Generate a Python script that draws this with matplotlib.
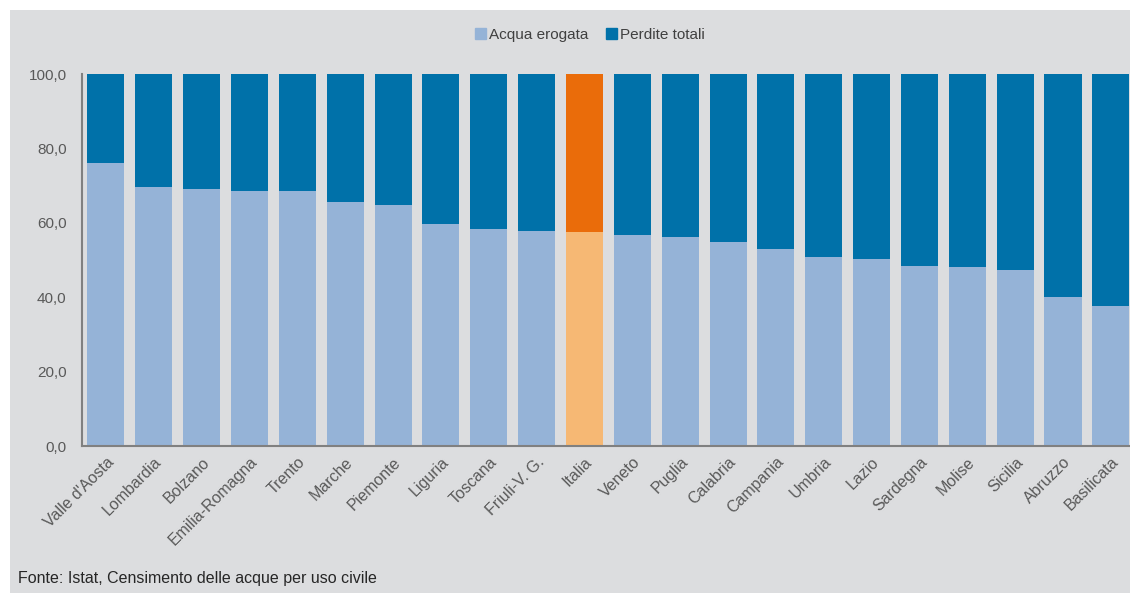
import matplotlib
matplotlib.use("Agg")
import matplotlib.pyplot as plt
from matplotlib.patches import Rectangle, Patch
import numpy as np

# dati (percentuale su acqua immessa in rete)
regioni = ["Valle d'Aosta", "Lombardia", "Bolzano", "Emilia-Romagna", "Trento",
           "Marche", "Piemonte", "Liguria", "Toscana", "Friuli-V. G.", "Italia",
           "Veneto", "Puglia", "Calabria", "Campania", "Umbria", "Lazio",
           "Sardegna", "Molise", "Sicilia", "Abruzzo", "Basilicata"]
acqua_erogata = [76.0, 69.6, 69.1, 68.5, 68.5, 65.6, 64.7, 59.7, 58.3, 57.8, 57.5,
                 56.7, 56.3, 54.8, 53.0, 50.7, 50.2, 48.5, 48.0, 47.3, 40.1, 37.7]
perdite_totali = [round(100 - v, 1) for v in acqua_erogata]
yticks = [0, 20, 40, 60, 80, 100]

grigio = "#dcdddf"
chiaro = "#95b3d7"
scuro = "#0071a9"
chiaro_it = "#f6b874"
scuro_it = "#ea6c0a"

narrow = ["Liberation Sans Narrow", "Liberation Sans", "DejaVu Sans"]
plt.rcParams["font.family"] = ["Liberation Sans", "DejaVu Sans"]

fig = plt.figure(figsize=(11.3, 5.93), dpi=100, facecolor="white")
fig.patches.append(Rectangle((10 / 1130, 0), 1, 583 / 593, transform=fig.transFigure,
                             facecolor=grigio, edgecolor="none", zorder=-1))

ax = fig.add_axes([82 / 1130, (593 - 446) / 593, (1130 - 82) / 1130, (446 - 74) / 593])
ax.set_facecolor(grigio)

x = np.arange(len(regioni))
col1 = [chiaro_it if r == "Italia" else chiaro for r in regioni]
col2 = [scuro_it if r == "Italia" else scuro for r in regioni]
ax.bar(x, acqua_erogata, width=0.774, color=col1, zorder=2)
ax.bar(x, perdite_totali, width=0.774, bottom=acqua_erogata, color=col2, zorder=2)

ax.set_xlim(-0.5, len(regioni) - 1 + 0.4)
ax.set_ylim(0, 100)
ax.set_yticks(yticks)
ax.set_yticklabels([f"{v:.1f}".replace(".", ",") for v in yticks],
                   fontsize=11, color="#595959")
ax.set_xticks(x)
ax.set_xticklabels(regioni, rotation=45, ha="right", rotation_mode="anchor",
                   fontsize=11.5, color="#595959")
ax.tick_params(axis="x", length=0, pad=6)
ax.tick_params(axis="y", length=0, pad=11)
for s in ["top", "right"]:
    ax.spines[s].set_visible(False)
for s in ["left", "bottom"]:
    ax.spines[s].set_color("#808080")
    ax.spines[s].set_linewidth(1.5)

handles = [Patch(color=chiaro, label="Acqua erogata"),
           Patch(color=scuro, label="Perdite totali")]
fig.legend(handles=handles, loc="center", bbox_to_anchor=(590 / 1130, 1 - 35 / 593),
           ncol=2, frameon=False, handlelength=0.7, handleheight=0.7,
           handletextpad=0.2, columnspacing=1.2,
           prop={"family": narrow, "size": 11}, labelcolor="#404040")

fig.text(18 / 1130, 1 - 578 / 593, "Fonte: Istat, Censimento delle acque per uso civile",
         fontsize=11.5, color="#262626", family=narrow, va="center", ha="left")

fig.savefig("out.png", dpi=100, facecolor="white")
